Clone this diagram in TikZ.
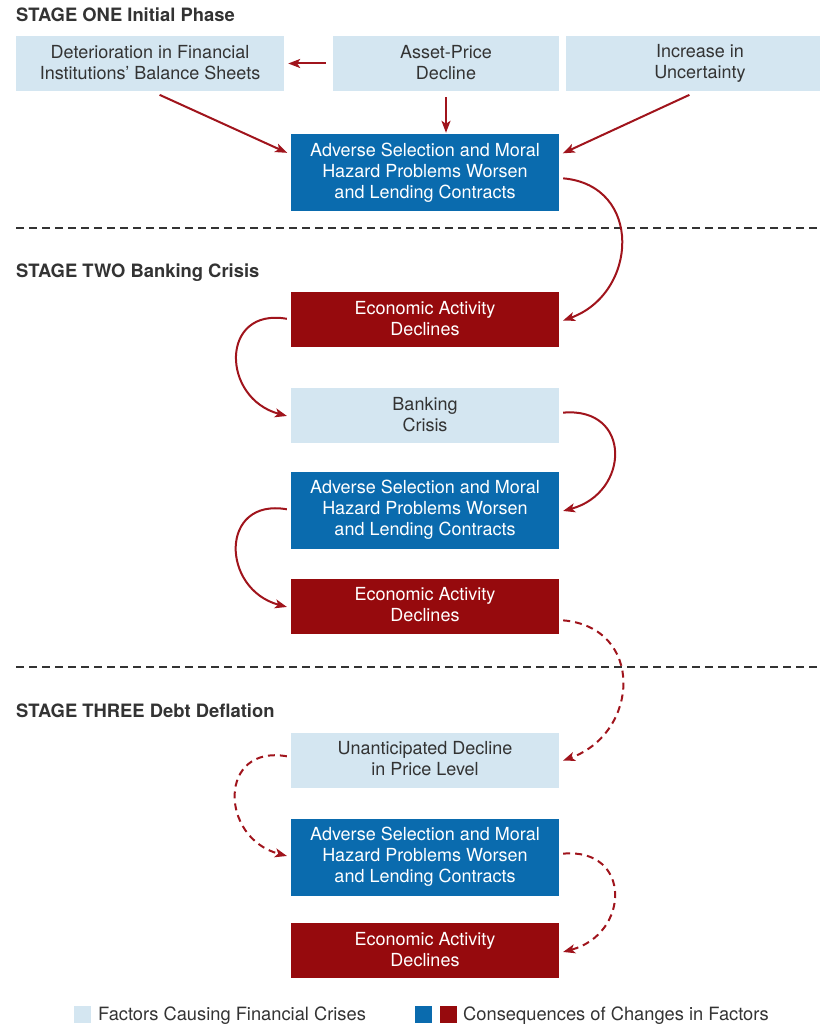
\documentclass[tikz,border=0pt]{standalone}
\usepackage{fontspec}
\setmainfont{TeX Gyre Heros}
\usetikzlibrary{arrows.meta}
\definecolor{factor}{HTML}{D4E6F1}
\definecolor{conblue}{HTML}{0A6BAE}
\definecolor{conred}{HTML}{960A0D}
\definecolor{arrowred}{HTML}{A0141C}
\definecolor{inkgray}{HTML}{333333}
\newcommand\boxstrut{\rule[-3pt]{0pt}{21pt}}
\begin{document}
\begin{tikzpicture}[x=1pt,y=-1pt,
  box/.style={inner sep=0pt,minimum height=55pt,minimum width=268pt,align=center,font=\fontsize{18}{21}\selectfont,
    execute at begin node=\boxstrut,execute at end node=\boxstrut},
  factorbox/.style={box,fill=factor,text=inkgray},
  bluebox/.style={box,fill=conblue,text=white,minimum height=77pt},
  redbox/.style={box,fill=conred,text=white},
  stage/.style={anchor=base west,inner sep=0pt,text=inkgray,font=\fontsize{18.4}{21}\selectfont\bfseries},
  keybox/.style={inner sep=0pt,minimum size=17pt},
  keytext/.style={anchor=base west,inner sep=0pt,text=inkgray,font=\fontsize{18.3}{21}\selectfont},
  link/.style={arrowred,line width=2pt,-{Stealth[length=12pt,width=9pt,inset=3pt]},shorten >=4pt,shorten <=4pt},
  guess/.style={link,dash pattern=on 7pt off 5pt},
  divider/.style={inkgray,line width=1.6pt,dash pattern=on 8pt off 5pt}]
\useasboundingbox (0,0) rectangle (819,1025);
\node[stage] (s1) at (16,21.5) {STAGE ONE Initial Phase};
\node[stage] (s2) at (16,277.5) {STAGE TWO Banking Crisis};
\node[stage] (s3) at (16,717.5) {STAGE THREE Debt Deflation};
\draw[divider] (16,228) -- (819,228);
\draw[divider] (16,667) -- (819,667);
\node[factorbox] (det) at (150,63.5) {Deterioration in Financial\\Institutions’ Balance Sheets};
\node[factorbox,minimum width=226pt] (asset) at (446,63.5) {Asset-Price\\Decline};
\node[factorbox] (unc) at (700,63.5) {Increase in\\Uncertainty};
\node[bluebox] (adv1) at (425,172.5) {Adverse Selection and Moral\\Hazard Problems Worsen\\and Lending Contracts};
\node[redbox] (eco1) at (425,319.5) {Economic Activity\\Declines};
\node[factorbox] (bank) at (425,415.5) {Banking\\Crisis};
\node[bluebox] (adv2) at (425,510) {Adverse Selection and Moral\\Hazard Problems Worsen\\and Lending Contracts};
\node[redbox] (eco2) at (425,606) {Economic Activity\\Declines};
\node[factorbox] (price) at (425,760) {Unanticipated Decline\\in Price Level};
\node[bluebox] (adv3) at (425,857) {Adverse Selection and Moral\\Hazard Problems Worsen\\and Lending Contracts};
\node[redbox] (eco3) at (425,950.5) {Economic Activity\\Declines};
\draw[link,shorten <=7pt] (asset.west) -- (det.east);
\draw[link] ([xshift=6pt,yshift=-2pt]det.south) -- ([yshift=18pt]adv1.west);
\draw[link,shorten >=1pt,shorten <=6pt] (asset.south) -- (asset.south |- adv1.north);
\draw[link] ([xshift=-7pt,yshift=-2pt]unc.south) -- ([yshift=17.5pt]adv1.east);
\draw[link] ([yshift=-5.5pt]adv1.east) to[out=-5,in=20,looseness=1.5] ([yshift=-2.5pt]eco1.east);
\draw[link] (eco1.west) to[out=170,in=165,looseness=1.9] ([yshift=-1.5pt]bank.west);
\draw[link] ([yshift=2.5pt]bank.east) to[out=5,in=15,looseness=1.9] ([yshift=-2pt]adv2.east);
\draw[link] (adv2.west) to[out=170,in=165,looseness=1.9] ([yshift=-2pt]eco2.west);
\draw[guess] ([yshift=-14pt]eco2.east) to[out=-5,in=20,looseness=1.55] ([yshift=-2pt]price.east);
\draw[guess] ([yshift=3pt]price.west) to[out=170,in=165,looseness=1.9] (adv3.west);
\draw[guess] ([yshift=3pt]adv3.east) to[out=5,in=15,looseness=1.9] ([yshift=-2.5pt]eco3.east);
\node[keybox,fill=factor] (key1) at (82.5,1014.5) {};
\node[keytext] (key1txt) at (98,1020.5) {Factors Causing Financial Crises};
\node[keybox,fill=conblue] (key2) at (423.5,1014.5) {};
\node[keybox,fill=conred] (key3) at (448.5,1014.5) {};
\node[keytext] (key3txt) at (463,1020.5) {Consequences of Changes in Factors};
\end{tikzpicture}
\end{document}
